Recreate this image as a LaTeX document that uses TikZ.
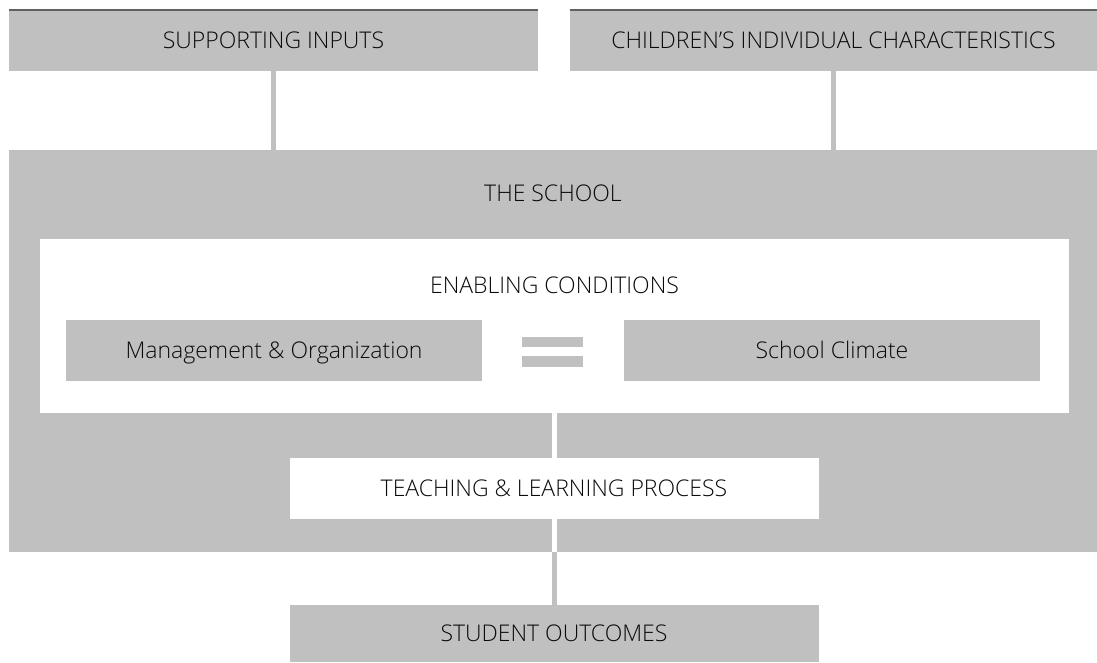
\documentclass[tikz,border=0pt]{standalone}
\usepackage{fontspec}
\IfFontExistsTF{Open Sans Light}{\setmainfont{Open Sans Light}}{\setmainfont{Open Sans}}
\usepackage{tikz}

\definecolor{boxgray}{RGB}{192,192,192}
\definecolor{rulegray}{RGB}{96,96,96}
\definecolor{txtgray}{RGB}{10,10,10}

\begin{document}
\begin{tikzpicture}[x=1pt, y=-1pt,
	every node/.style={inner sep=0pt, outer sep=0pt, text=txtgray, text height=16.5pt, text depth=0pt, font=\fontsize{23}{27}\selectfont},
	box/.style={fill=boxgray, minimum height=61pt},
	whitebox/.style={fill=white, minimum height=61pt},
	link/.style={draw=boxgray, line width=5pt},
	gap/.style={draw=white, line width=5pt},
	toprule/.style={draw=rulegray, line width=2pt}]
	\useasboundingbox (0,0) rectangle (1097,662);
	
	\node[box, minimum width=529pt] (supp) at (273.5, 40.5) {SUPPORTING INPUTS};
	\node[box, minimum width=527pt] (kids) at (833.5, 40.5) {CHILDREN’S INDIVIDUAL CHARACTERISTICS};
	\draw[toprule] (supp.north west) -- (supp.north east);
	\draw[toprule] (kids.north west) -- (kids.north east);
	
	\node[fill=boxgray, minimum width=1088pt, minimum height=401.5pt] (school) at (553, 350.75) {};
	\node (schoollbl) at (553, 193) {THE SCHOOL};
	
	\node[fill=white, minimum width=1029pt, minimum height=173.5pt] (enab) at (554.5, 325.75) {};
	\node (enablbl) at (554.5, 285) {ENABLING CONDITIONS};
	
	\node[box, minimum width=416pt] (mgmt) at (274, 350.5) {Management \& Organization};
	\node[box, minimum width=416pt] (climate) at (832, 350.5) {School Climate};
	\fill[boxgray] (522, 337) rectangle (583, 347);
	\fill[boxgray] (522, 356) rectangle (583, 367);
	
	\node[whitebox, minimum width=529pt] (teach) at (554, 488.5) {TEACHING \& LEARNING PROCESS};
	\node[box, minimum width=529pt, minimum height=57pt] (outcomes) at (554, 633.5) {STUDENT OUTCOMES};
	
	\draw[link] (supp.south) -- (supp.south |- school.north);
	\draw[link] (kids.south) -- (kids.south |- school.north);
	\draw[gap] (teach.north |- enab.south) -- (teach.north);
	\draw[link] (teach.south) -- (outcomes.north);
	\draw[gap] (teach.south) -- (teach.south |- school.south);
\end{tikzpicture}
\end{document}
